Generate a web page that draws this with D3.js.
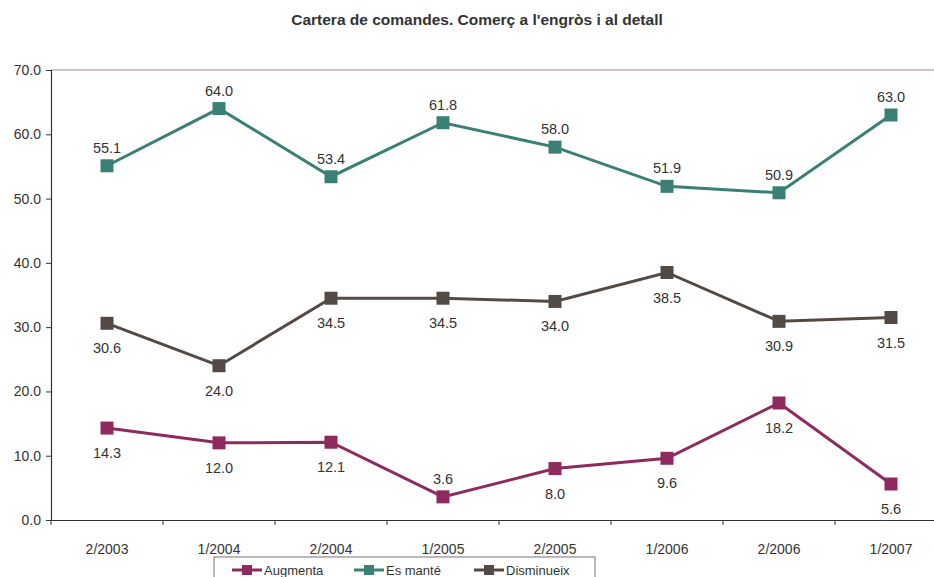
<!DOCTYPE html>
<html>
<head>
<meta charset="utf-8">
<script src="https://cdn.jsdelivr.net/npm/d3@7"></script>
<style>
  body { margin: 0; background: #fff; }
  svg { display: block; font-family: "Liberation Sans", Arial, sans-serif; }
</style>
</head>
<body>
<svg id="chart" width="934" height="577"></svg>
<script>
// chart data
var categories = ['2/2003', '1/2004', '2/2004', '1/2005', '2/2005', '1/2006', '2/2006', '1/2007'];
var augmenta = [14.3, 12.0, 12.1, 3.6, 8.0, 9.6, 18.2, 5.6];
var esMante = [55.1, 64.0, 53.4, 61.8, 58.0, 51.9, 50.9, 63.0];
var disminueix = [30.6, 24.0, 34.5, 34.5, 34.0, 38.5, 30.9, 31.5];
var yTicks = [0, 10, 20, 30, 40, 50, 60, 70];

var series = [
  { name: 'Augmenta', values: augmenta, color: '#8f2a5e', labelPos: ['b', 'b', 'b', 'a', 'b', 'b', 'b', 'b'] },
  { name: 'Es manté', values: esMante, color: '#3a8075', labelPos: ['a', 'a', 'a', 'a', 'a', 'a', 'a', 'a'] },
  { name: 'Disminueix', values: disminueix, color: '#544a45', labelPos: ['b', 'b', 'b', 'b', 'b', 'b', 'b', 'b'] }
];

var svg = d3.select('#chart'),
  margin = { left: 51, top: 70, bottom: 57 },
  plotRight = 51 + categories.length * 112,
  plotBottom = 577 - margin.bottom;

var x = d3.scaleBand().domain(categories).range([margin.left, plotRight]);
var y = d3.scaleLinear().domain([0, 70]).range([plotBottom, margin.top]);

svg.append('text')
  .attr('x', 477)
  .attr('y', 25)
  .attr('text-anchor', 'middle')
  .attr('font-size', 15.5)
  .attr('font-weight', 'bold')
  .attr('fill', '#333')
  .text("Cartera de comandes. Comerç a l'engròs i al detall");

// top gridline
svg.append('line')
  .attr('x1', margin.left).attr('x2', plotRight)
  .attr('y1', y(70)).attr('y2', y(70))
  .attr('stroke', '#9a8a88').attr('stroke-width', 1);

var yAxis = svg.append('g')
  .attr('transform', 'translate(' + margin.left + ',0)')
  .call(d3.axisLeft(y).tickValues(yTicks).tickFormat(d3.format('.1f')).tickSize(5));

var xAxis = svg.append('g')
  .attr('transform', 'translate(0,' + plotBottom + ')')
  .call(d3.axisBottom(x).tickSize(0).tickPadding(24));

// category boundary ticks
xAxis.selectAll('.bound')
  .data(d3.range(categories.length + 1))
  .enter().append('line')
  .attr('class', 'bound')
  .attr('x1', function(i) { return margin.left + i * x.step(); })
  .attr('x2', function(i) { return margin.left + i * x.step(); })
  .attr('y1', 0).attr('y2', 5)
  .attr('stroke', '#333');

[yAxis, xAxis].forEach(function(a) {
  a.selectAll('.domain').attr('stroke', '#333').attr('stroke-width', 1.2);
  a.selectAll('.tick line').attr('stroke', '#333');
  a.selectAll('text').attr('font-size', 14).attr('fill', '#333')
    .attr('font-family', '"Liberation Sans", Arial, sans-serif');
});
yAxis.selectAll('text').attr('dx', -2);

var line = d3.line()
  .x(function(d, i) { return x(categories[i]) + x.bandwidth() / 2; })
  .y(function(d) { return y(d); });

series.forEach(function(s) {
  var g = svg.append('g');
  g.append('path')
    .attr('d', line(s.values))
    .attr('fill', 'none')
    .attr('stroke', s.color)
    .attr('stroke-width', 3);

  g.selectAll('rect')
    .data(s.values)
    .enter().append('rect')
    .attr('x', function(d, i) { return x(categories[i]) + x.bandwidth() / 2 - 6.5; })
    .attr('y', function(d) { return y(d) - 6.5; })
    .attr('width', 13)
    .attr('height', 13)
    .attr('fill', s.color);

  g.selectAll('text')
    .data(s.values)
    .enter().append('text')
    .attr('x', function(d, i) { return x(categories[i]) + x.bandwidth() / 2; })
    .attr('y', function(d, i) { return s.labelPos[i] === 'a' ? y(d) - 13 : y(d) + 30; })
    .attr('text-anchor', 'middle')
    .attr('font-size', 14.5)
    .attr('fill', '#333')
    .text(function(d) { return d3.format('.1f')(d); });
});

// legend
var legend = svg.append('g').attr('transform', 'translate(214,557)');
legend.append('rect')
  .attr('x', 0).attr('y', 0)
  .attr('width', 381).attr('height', 30)
  .attr('fill', '#fff')
  .attr('stroke', '#777');

var legendX = [18, 140, 260];
series.forEach(function(s, i) {
  var item = legend.append('g').attr('transform', 'translate(' + legendX[i] + ',13)');
  item.append('line')
    .attr('x1', 0).attr('x2', 30)
    .attr('y1', 0).attr('y2', 0)
    .attr('stroke', s.color).attr('stroke-width', 3);
  item.append('rect')
    .attr('x', 10).attr('y', -5)
    .attr('width', 10).attr('height', 10)
    .attr('fill', s.color);
  item.append('text')
    .attr('x', 32).attr('y', 5)
    .attr('font-size', 13)
    .attr('fill', '#333')
    .text(s.name);
});
</script>
</body>
</html>
